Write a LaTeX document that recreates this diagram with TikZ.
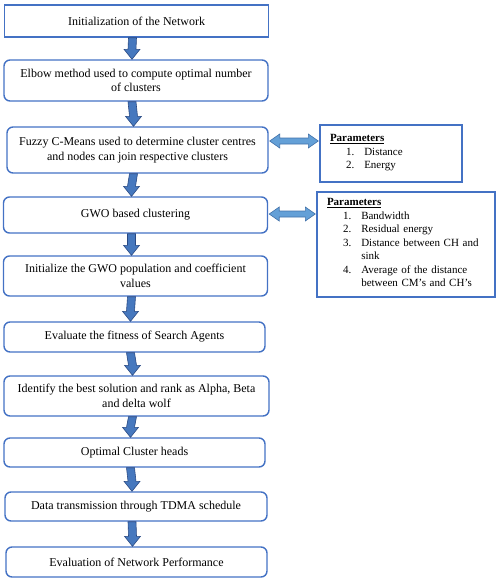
\documentclass[tikz,border=0pt]{standalone}
\usepackage{fontspec}
\setmainfont{Liberation Serif}
\usetikzlibrary{calc}

\definecolor{boxblue}{RGB}{68,114,196}
\definecolor{arrowfill}{RGB}{70,120,190}
\definecolor{arrowline}{RGB}{40,72,130}
\definecolor{sidefill}{RGB}{100,160,215}
\definecolor{sideline}{RGB}{65,113,170}

\tikzset{
  stepbox/.style={draw=boxblue, line width=1.4pt, rounded corners=6pt, minimum width=264pt,
    align=center, inner sep=2pt, font=\fontsize{12}{14.5}\selectfont},
  parambox/.style={draw=boxblue, line width=1.4pt, align=left, inner xsep=10pt, inner ysep=2pt,
    font=\fontsize{11}{13.5}\selectfont},
  downarr/.style={draw=arrowline, fill=arrowfill, line width=0.6pt, to path={
    ($(\tikztostart.south)+(-8,0)$) -- ($(\tikztostart.south)+(0,0)$)
    -- ($(\tikztotarget.north)+(0,-10)$) -- ($(\tikztotarget.north)+(4,-10)$)
    -- ($(\tikztotarget.north)+(-4,0)$) -- ($(\tikztotarget.north)+(-12,-10)$)
    -- ($(\tikztotarget.north)+(-8,-10)$) -- cycle}},
  % #1 = vertical offset of the arrow from the middle of the left box
  sidearr/.style={draw=sideline, fill=sidefill, line width=0.6pt, to path={
    ($(\tikztostart.east)+(1,#1)$) -- ($(\tikztostart.east)+(11,#1-7)$) -- ($(\tikztostart.east)+(11,#1-3)$)
    -- ($(\tikztotarget.west |- \tikztostart.east)+(-11,#1-3)$) -- ($(\tikztotarget.west |- \tikztostart.east)+(-11,#1-7)$)
    -- ($(\tikztotarget.west |- \tikztostart.east)+(-1,#1)$)
    -- ($(\tikztotarget.west |- \tikztostart.east)+(-11,#1+7)$) -- ($(\tikztotarget.west |- \tikztostart.east)+(-11,#1+3)$)
    -- ($(\tikztostart.east)+(11,#1+3)$) -- ($(\tikztostart.east)+(11,#1+7)$) -- cycle}},
  sidearr/.default=0
}

\begin{document}
\begin{tikzpicture}[x=1pt,y=-1pt]
\useasboundingbox (0,0) rectangle (500,581);

%Flow boxes
\node [stepbox, rounded corners=0pt, minimum height=32pt] (init) at (136.5,21) {Initialization of the Network};
\node [stepbox, minimum height=41pt] (elbow) at (136,80.5) {Elbow method used to compute optimal number\\of clusters};
\node [stepbox, minimum width=261pt, minimum height=46pt] (fcm) at (137.5,150) {Fuzzy C-Means used to determine cluster centres\\and nodes can join respective clusters};
\node [stepbox, minimum height=36pt] (gwo) at (135.5,215) {GWO based clustering};
\node [stepbox, minimum height=40pt] (pop) at (135.5,276) {Initialize the GWO population and coefficient\\values};
\node [stepbox, minimum width=261pt, minimum height=30pt] (fit) at (134.5,337) {Evaluate the fitness of Search Agents};
\node [stepbox, minimum width=265pt, minimum height=40pt] (rank) at (136.5,396) {Identify the best solution and rank as Alpha, Beta\\and delta wolf};
\node [stepbox, minimum width=261pt, minimum height=29pt] (heads) at (134.5,452.5) {Optimal Cluster heads};
\node [stepbox, minimum width=262pt, minimum height=29pt] (tdma) at (136,506.5) {Data transmission through TDMA schedule};
\node [stepbox, minimum width=261pt, minimum height=30pt] (eval) at (136.5,562) {Evaluation of Network Performance};

%Parameter boxes
\node [parambox, minimum width=142pt, minimum height=57pt, text width=122pt] (par1) at (391,153.5) {%
  \textbf{\underline{Parameters}}\\
  \begin{tabular}[t]{@{\hspace{16pt}}l@{\hspace{10pt}}l@{}}
  1. & Distance\\
  2. & Energy
  \end{tabular}};
\node [parambox, minimum width=178pt, minimum height=105pt, text width=158pt] (par2) at (406,244.5) {%
  \textbf{\underline{Parameters}}\\
  \begin{tabular}[t]{@{\hspace{16pt}}l@{\hspace{10pt}}l@{}}
  1. & Bandwidth\\
  2. & Residual energy\\
  3. & Distance between CH and\\
     & sink\\
  4. & Average of the distance\\
     & between CM’s and CH’s
  \end{tabular}};

%Down arrows
\foreach \a/\b in {init/elbow, elbow/fcm, fcm/gwo, gwo/pop, pop/fit, fit/rank, rank/heads, heads/tdma, tdma/eval}
  \path [downarr] (\a) to (\b);

%Side arrows
\path [sidearr=-9] (fcm) to (par1);
\path [sidearr=-1] (gwo) to (par2);

\end{tikzpicture}
\end{document}
